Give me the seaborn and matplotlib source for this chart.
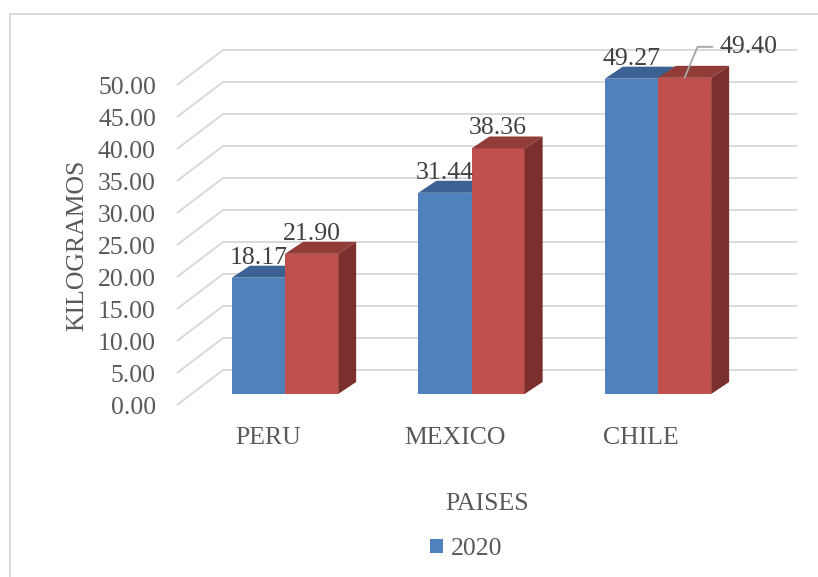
import matplotlib
matplotlib.use("Agg")
import matplotlib.pyplot as plt
from matplotlib.patches import Polygon, Patch, Rectangle
from matplotlib.transforms import ScaledTranslation
import pandas as pd
import seaborn as sns

# --- data -------------------------------------------------------------
paises = ["PERU", "MEXICO", "CHILE"]
kg_2020 = [18.17, 31.44, 49.27]
kg_serie2 = [21.90, 38.36, 49.40]
series = ["2020", "Serie 2"]
y_ticks = [0, 5, 10, 15, 20, 25, 30, 35, 40, 45, 50]
y_tick_labels = ["0.00", "5.00", "10.00", "15.00", "20.00", "25.00",
                 "30.00", "35.00", "40.00", "45.00", "50.00"]

df = pd.DataFrame({
    "pais": paises * 2,
    "kg": kg_2020 + kg_serie2,
    "serie": [series[0]] * 3 + [series[1]] * 3,
})

# --- style ------------------------------------------------------------
sns.set_theme(style="white")
plt.rcParams["font.family"] = ["Liberation Serif", "DejaVu Serif"]

BLUE, BLUE_TOP = "#4F81BD", "#3B6292"
RED, RED_TOP, RED_SIDE = "#C0504D", "#923C3A", "#7B302E"
GRID = "#D9D9D9"
TXT = "#595959"
LBL = "#404040"
FS = 18.5

W, H, DPI = 818, 577, 100
fig = plt.figure(figsize=(W / DPI, H / DPI), dpi=DPI)
fig.patch.set_facecolor("white")

# plot area in pixels
ax_l, ax_r, ax_t, ax_b = 165, 800, 14, 394
ax = fig.add_axes([ax_l / W, 1 - ax_b / H, (ax_r - ax_l) / W, (ax_b - ax_t) / H])

PX_X = 186.5   # pixels per category
PX_Y = 6.4     # pixels per kg
X0 = 285       # pixel x of first category centre
ax.set_xlim((ax_l - X0) / PX_X, (ax_r - X0) / PX_X)
ax.set_ylim(0, (ax_b - ax_t) / PX_Y)

def dx(px):
    return px / PX_X

def dy(px):
    return px / PX_Y

# --- 3-D style walls: back gridlines and left-wall diagonals ------------
back_l, back_r = dx(223 - X0), dx(797 - X0)
front_l = dx(177 - X0)
back_off, front_off = dy(24), dy(-11)
for v in y_ticks:
    ax.plot([front_l, back_l, back_r], [v + front_off, v + back_off, v + back_off],
            color=GRID, lw=1.4, zorder=1, clip_on=False, solid_capstyle="butt")

# --- bars --------------------------------------------------------------
sns.barplot(data=df, x="pais", y="kg", hue="serie", palette=[BLUE, RED],
            width=0.57, saturation=1, errorbar=None, legend=False,
            linewidth=0, ax=ax)
ax.set_xlim((ax_l - X0) / PX_X, (ax_r - X0) / PX_X)
ax.set_ylim(0, (ax_b - ax_t) / PX_Y)

blue_bars, red_bars = ax.containers
ddx, ddy = dx(18), dy(12)

for bar in blue_bars:
    bar.set_zorder(3)
    x, w, h = bar.get_x(), bar.get_width(), bar.get_height()
    ax.add_patch(Polygon([(x, h), (x + w, h), (x + w + ddx, h + ddy), (x + ddx, h + ddy)],
                         closed=True, fc=BLUE_TOP, ec="none", zorder=3.5, clip_on=False))

for bar in red_bars:
    bar.set_zorder(5)
    x, w, h = bar.get_x(), bar.get_width(), bar.get_height()
    ax.add_patch(Polygon([(x, h), (x + w, h), (x + w + ddx, h + ddy), (x + ddx, h + ddy)],
                         closed=True, fc=RED_TOP, ec="none", zorder=5.5, clip_on=False))
    ax.add_patch(Polygon([(x + w, 0), (x + w + ddx, ddy), (x + w + ddx, h + ddy), (x + w, h)],
                         closed=True, fc=RED_SIDE, ec="none", zorder=5.5, clip_on=False))

# --- value labels --------------------------------------------------------
for t in ax.bar_label(blue_bars, labels=[f"{v:.2f}" for v in kg_2020], padding=6.5,
                      fontsize=FS, color=LBL):
    t.set_zorder(7)
red_labels = [f"{v:.2f}" for v in kg_serie2]
for t in ax.bar_label(red_bars, labels=red_labels[:-1] + [""], padding=6.5,
                      fontsize=FS, color=LBL):
    t.set_zorder(7)

# last red label sits to the side with a leader line
last = red_bars[-1]
lx = last.get_x() + last.get_width() / 2
lh = last.get_height()
mx, my = lx + dx(13), lh + dy(31)
ex = mx + dx(15)
ax.plot([lx, mx, ex], [lh, my, my], color="#A6A6A6", lw=1.3, zorder=8, clip_on=False)
ax.text(ex + dx(7), my, red_labels[-1], fontsize=FS, color=LBL,
        ha="left", va="center", zorder=8, clip_on=False)

# --- axes text -----------------------------------------------------------
for s in ax.spines.values():
    s.set_visible(False)
ax.grid(False)

ax.set_yticks(y_ticks, labels=y_tick_labels)
ax.tick_params(axis="y", length=0, pad=6.5, labelsize=FS, labelcolor=TXT)
ax.tick_params(axis="x", length=0, pad=23.5, labelsize=FS, labelcolor=TXT)
ax.set_xticks(range(len(paises)), labels=paises)

y_shift = ScaledTranslation(0, -12 / DPI, fig.dpi_scale_trans)
for lbl in ax.get_yticklabels():
    lbl.set_transform(lbl.get_transform() + y_shift)
x_shift = ScaledTranslation(-17 / DPI, 0, fig.dpi_scale_trans)
for lbl in ax.get_xticklabels():
    lbl.set_transform(lbl.get_transform() + x_shift)

ax.set_ylabel("KILOGRAMOS", fontsize=FS, color=TXT)
ax.yaxis.set_label_coords((88 - ax_l) / (ax_r - ax_l), (ax_b - 245) / (ax_b - ax_t))
ax.set_xlabel("PAISES", fontsize=FS, color=TXT)
ax.xaxis.set_label_coords((487 - ax_l) / (ax_r - ax_l), (ax_b - 493) / (ax_b - ax_t))

# legend (only the 2020 series is listed)
fig.legend(handles=[Patch(fc=BLUE, ec="none", label=series[0])], loc="center",
           bbox_to_anchor=(466 / W, 1 - 549 / H), frameon=False, fontsize=FS,
           handlelength=0.5, handleheight=0.5, handletextpad=0.3, labelcolor=TXT)

# chart border (top and left edges visible)
fig.add_artist(Rectangle((10 / W, -0.05), 1.2, 1 - 14 / H + 0.05,
                         transform=fig.transFigure, fill=False, ec=GRID, lw=1.3))

fig.savefig("out.png", dpi=DPI)
